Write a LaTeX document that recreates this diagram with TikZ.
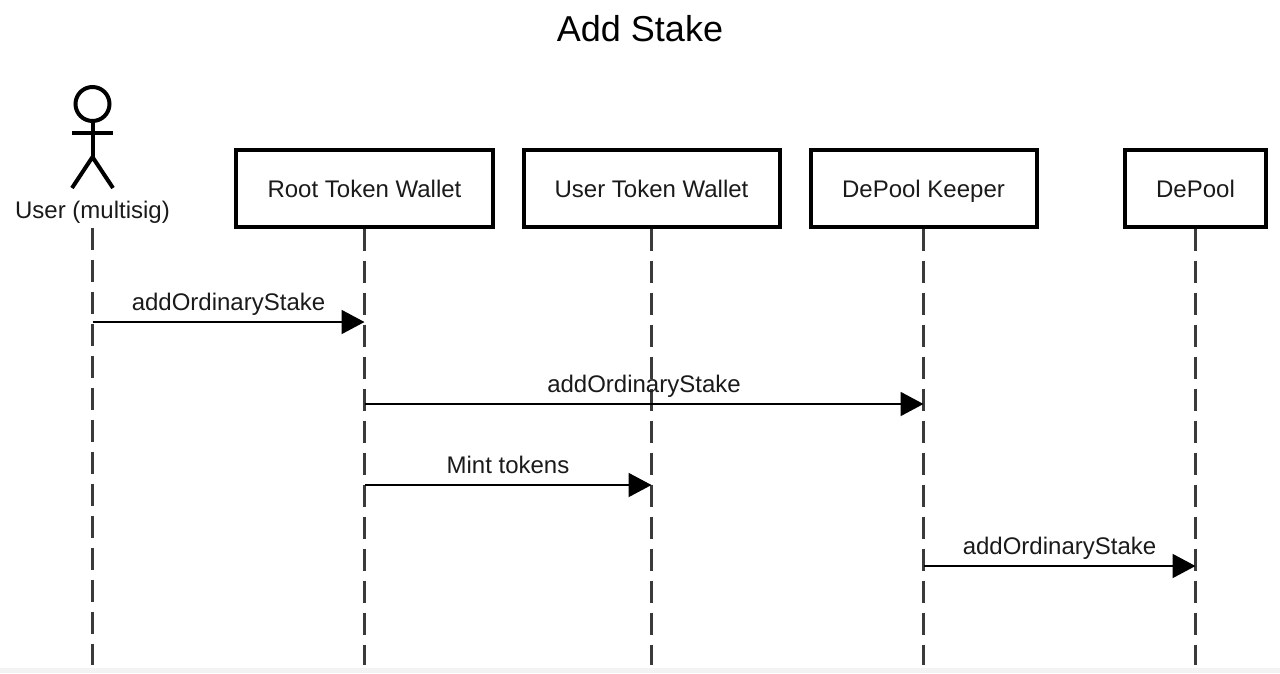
\documentclass[tikz,border=0pt]{standalone}
\usepackage{fontspec}
\setmainfont{Liberation Sans}
\usepackage{xcolor}
\usepackage{tikz}
\usetikzlibrary{arrows.meta}
\definecolor{ink}{HTML}{1A1A1A}
\definecolor{dashgray}{HTML}{3A3A3A}
\definecolor{bandgray}{HTML}{F3F3F3}
\tikzset{lifebox/.style={rectangle,draw=black,line width=4pt,minimum height=77pt,inner sep=0pt,text=ink,text height=20pt,text depth=2pt,font=\fontsize{24}{26}\selectfont}}
\tikzset{lifeline/.style={draw=dashgray,line width=2.5pt,dash pattern=on 22pt off 10pt}}
\tikzset{msg/.style={->,draw=black,line width=2pt}}
\tikzset{msglabel/.style={above=5.5pt,inner sep=0pt,text=ink,text height=17pt,text depth=5pt,font=\fontsize{24}{26}\selectfont}}
\tikzset{stick/.style={draw=black,line width=4pt}}

\begin{document}
\begin{tikzpicture}[x=1pt,y=-1pt,>={Triangle[length=23pt,width=24pt]}]
        \useasboundingbox (0,0) rectangle (1280,673);
        \fill[bandgray] (0,668) rectangle (1280,673);

        \node[text=black,inner sep=0pt,font=\fontsize{36}{40}\selectfont] (title) at (640,29) {Add Stake};

        % actor
        \node[circle,stick,fill=white,minimum size=34pt,inner sep=0pt] (head) at (92.5,104) {};
        \coordinate (hip) at (92.5,157);
        \coordinate (armL) at (72,133);
        \coordinate (armR) at (113,133);
        \coordinate (footL) at (72,188);
        \coordinate (footR) at (113,188);
        \draw[stick] (head) -- (hip);
        \draw[stick] (armL) -- (armR);
        \draw[stick] (footL) -- (hip) -- (footR);
        \node[inner sep=0pt,text=ink,font=\fontsize{24}{26}\selectfont] (user) at (92.5,212) {User (multisig)};
        \coordinate (usertop) at (92.5,228);

        % boxes
        \node[lifebox,minimum width=257pt] (root) at (364.5,188) {Root Token Wallet};
        \node[lifebox,minimum width=256pt] (wallet) at (651.5,188) {User Token Wallet};
        \node[lifebox,minimum width=226pt] (keeper) at (923.5,188) {DePool Keeper};
        \node[lifebox,minimum width=141pt] (depool) at (1195.5,188) {DePool};

        % lifelines
        \coordinate (bottom) at (0,665);
        \foreach \n in {usertop,root,wallet,keeper,depool}
            \draw[lifeline] (\n) -- (\n |- bottom);

        % messages
        \coordinate (m1) at (0,322);
        \coordinate (m2) at (0,404);
        \coordinate (m3) at (0,485);
        \coordinate (m4) at (0,566);
        \draw[msg] (usertop |- m1) to node[msglabel]{addOrdinaryStake} (root |- m1);
        \draw[msg] (root |- m2) to node[msglabel]{addOrdinaryStake} (keeper |- m2);
        \draw[msg] (root |- m3) to node[msglabel]{Mint tokens} (wallet |- m3);
        \draw[msg] (keeper |- m4) to node[msglabel]{addOrdinaryStake} (depool |- m4);
    \end{tikzpicture}
\end{document}
